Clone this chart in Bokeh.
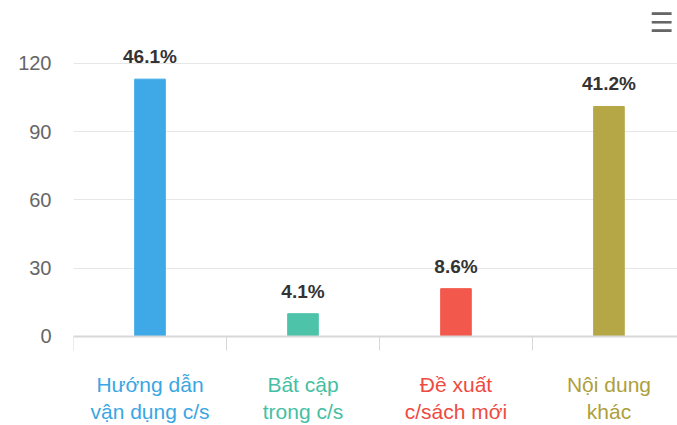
from bokeh.plotting import figure
from bokeh.models import ColumnDataSource, Range1d, FixedTicker, LabelSet, Label, LinearAxis
from bokeh.core.properties import value
from bokeh.embed import file_html
from bokeh.resources import INLINE

# ---- data ----
line1 = ["Hướng dẫn", "Bất cập", "Đề xuất", "Nội dung"]
line2 = ["vận dụng c/s", "trong c/s", "c/sách mới", "khác"]
counts = [113, 10, 21, 101]
percents = ["46.1%", "4.1%", "8.6%", "41.2%"]
bar_colors = ["#3ea9e6", "#4dc3aa", "#f2584b", "#b5a745"]
label_colors = ["#3aa6e3", "#45bfa3", "#ee4a3f", "#ada03c"]
y_ticks = [0, 30, 60, 90, 120]
boundaries = [0, 1, 2, 3, 4]

centers = [i + 0.5 for i in range(len(counts))]
src = ColumnDataSource(dict(x=centers, top=counts, pct=percents,
                            l1=line1, l2=line2,
                            bc=bar_colors, lc=label_colors))

FONT = value("Liberation Sans")

p = figure(width=677, height=425, output_backend="svg", toolbar_location=None,
           x_range=Range1d(0, 3.948), y_range=Range1d(-39.08, 147.53),
           x_axis_location=None, min_border=0,
           min_border_left=73, min_border_right=0, min_border_top=0,
           min_border_bottom=0)
p.outline_line_color = None
p.background_fill_color = "white"
p.border_fill_color = "white"

# y axis
p.yaxis.ticker = FixedTicker(ticks=y_ticks)
p.yaxis.axis_line_color = None
p.yaxis.major_tick_line_color = None
p.yaxis.minor_tick_line_color = None
p.yaxis.major_tick_out = 0
p.yaxis.major_tick_in = 0
p.yaxis.major_label_standoff = 22
p.yaxis.major_label_text_font = "Liberation Sans"
p.yaxis.major_label_text_font_size = "20px"
p.yaxis.major_label_text_color = "#666666"
p.ygrid.ticker = FixedTicker(ticks=y_ticks)
p.ygrid.grid_line_color = "#e6e6e6"
p.ygrid.grid_line_width = 1
p.xgrid.grid_line_color = None

# x axis at y = 0 (ticks on category boundaries, no tick labels)
xaxis = LinearAxis(fixed_location=0, ticker=FixedTicker(ticks=boundaries))
xaxis.major_label_overrides = {b: "" for b in boundaries}
xaxis.major_label_standoff = 0
xaxis.axis_line_color = "#d8d8d8"
xaxis.axis_line_width = 2
xaxis.major_tick_line_color = "#d8d8d8"
xaxis.major_tick_line_width = 1
xaxis.major_tick_out = 14
xaxis.major_tick_in = 0
xaxis.minor_tick_line_color = None
p.add_layout(xaxis, "below")

p.vbar(x="x", top="top", bottom=0, width=0.2, color="bc", source=src)

# data labels
p.add_layout(LabelSet(x="x", y="top", text="pct", source=src,
                      y_offset=16, text_align="center", text_baseline="alphabetic",
                      text_font=FONT, text_font_style="bold",
                      text_font_size="19px", text_color="#333333"))

# category labels (two lines)
p.add_layout(LabelSet(x="x", y=34, y_units="screen", text="l1", source=src,
                      text_align="center", text_baseline="alphabetic",
                      text_font=FONT, text_font_size="21px",
                      text_color="lc"))
p.add_layout(LabelSet(x="x", y=7, y_units="screen", text="l2", source=src,
                      text_align="center", text_baseline="alphabetic",
                      text_font=FONT, text_font_size="21px",
                      text_color="lc"))

# menu icon
p.add_layout(Label(x=588, y=403, x_units="screen", y_units="screen", text="☰",
                   text_align="center", text_baseline="middle",
                   text_font="DejaVu Sans", text_font_size="27px",
                   text_color="#666666"))

open("out.html", "w").write(file_html(p, INLINE))
